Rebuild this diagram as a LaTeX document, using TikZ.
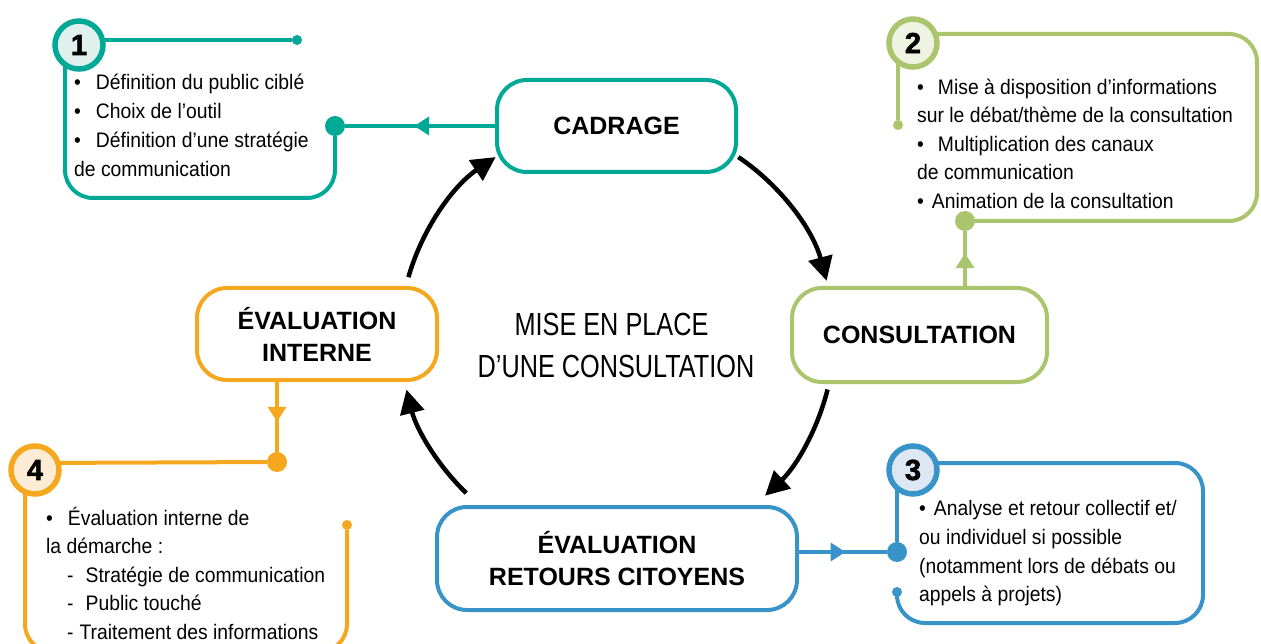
\documentclass[tikz,border=0pt]{standalone}
\usepackage{fontspec}
\setmainfont{Liberation Sans}
\newfontfamily\bodyfont[FakeStretch=0.92]{Liberation Sans}
\newfontfamily\titlefont[FakeStretch=0.79]{Liberation Sans}
\newfontfamily\numfont[FakeBold=2]{Liberation Sans Bold}
\usetikzlibrary{arrows.meta,decorations.markings,backgrounds}
\definecolor{tealc}{RGB}{0,169,150}
\definecolor{tealf}{RGB}{224,240,236}
\definecolor{greenc}{RGB}{170,197,108}
\definecolor{greenf}{RGB}{238,243,226}
\definecolor{bluec}{RGB}{55,147,200}
\definecolor{bluef}{RGB}{221,231,243}
\definecolor{orangec}{RGB}{245,168,30}
\definecolor{orangef}{RGB}{253,236,213}
\tikzset{
  stage/.style={draw, fill=white, rounded corners=30pt, line width=4pt, align=center,
    font=\fontsize{25}{32}\selectfont\bfseries},
  num/.style={circle, draw, line width=5.5pt, minimum size=48pt, inner sep=0pt,
    font=\numfont\fontsize{29}{29}\selectfont},
  bigdot/.style={circle, inner sep=0pt, minimum size=20pt},
  smalldot/.style={circle, inner sep=0pt, minimum size=10pt},
  body/.style={anchor=base west, inner sep=0pt, font=\bodyfont\fontsize{21}{29}\selectfont},
  ttl/.style={anchor=base, inner sep=0pt, font=\titlefont\fontsize{32}{43}\selectfont},
  cyc/.style={line width=4.5pt, -{Triangle[length=24pt,width=24pt]}},
  outline/.style={line width=4pt, rounded corners=28pt},
  link/.style={line width=3.5pt},
  midtri/.style={postaction={decorate}, decoration={markings,
    mark=at position #1 with {\arrow{Triangle[length=15pt,width=18pt]}}}}
}
\begin{document}
\begin{tikzpicture}[x=1pt,y=-1pt]
\useasboundingbox (0,0) rectangle (1261,644);

% stage boxes
\node[stage, draw=tealc, minimum width=239pt, minimum height=92pt] (cad) at (616.5,126) {CADRAGE};
\node[stage, draw=greenc, minimum width=255pt, minimum height=94pt] (con) at (919.5,335) {CONSULTATION};
\node[stage, draw=bluec, minimum width=360pt, minimum height=103pt] (evr) at (617,558.5) {ÉVALUATION\\RETOURS CITOYENS};
\node[stage, draw=orangec, minimum width=240pt, minimum height=92pt] (evi) at (317,334) {ÉVALUATION\\INTERNE};

% title
\node[ttl] (ti1) at (611.5,335) {MISE EN PLACE};
\node[ttl] (ti2) at (616,377) {D’UNE CONSULTATION};

% cycle arrows
\coordinate (cc) at (617,337);
\coordinate (a1) at ([shift={(-56:217)}]cc);
\coordinate (a2) at ([shift={(14:217)}]cc);
\coordinate (a3) at ([shift={(-226:217)}]cc);
\coordinate (a4) at ([shift={(-164:217)}]cc);
\draw[cyc] (a1) arc[start angle=-56, end angle=-15, radius=217];
\draw[cyc] (a2) arc[start angle=14, end angle=47, radius=217];
\draw[cyc] (a3) arc[start angle=-226, end angle=-194, radius=217];
\draw[cyc] (a4) arc[start angle=-164, end angle=-124, radius=217];

% number circles
\node[num, draw=tealc, fill=tealf] (c1) at (79,45) {1};
\node[num, draw=greenc, fill=greenf] (c2) at (913,43) {2};
\node[num, draw=bluec, fill=bluef] (c3) at (913,470) {3};
\node[num, draw=orangec, fill=orangef] (c4) at (35,470) {4};

% dots
\node[bigdot, fill=tealc] (d1) at (335,126) {};
\node[smalldot, fill=tealc] (d1t) at (297,40) {};
\node[bigdot, fill=greenc] (d2b) at (965,221) {};
\node[smalldot, fill=greenc] (d2a) at (898,125) {};
\node[bigdot, fill=bluec] (d3) at (897,552) {};
\node[smalldot, fill=bluec] (d3s) at (897,592) {};
\node[bigdot, fill=orangec] (d4) at (277,462) {};
\node[smalldot, fill=orangec] (d4s) at (347,525) {};

\begin{scope}[on background layer]
\fill[white] (0,0) rectangle (1261,644);
% box 1
\draw[outline, tealc] (c1) ++(0,-5) -- (d1t);
\draw[outline, tealc] (c1) ++(-14,0) -- (65,198) -- (335,198) -- (d1);
\draw[link, tealc, midtri=0.54] (cad.west |- d1) -- (d1);
% box 2
\draw[outline, greenc] (c2) ++(-15,0) -- (d2a);
\draw[outline, greenc] (c2) ++(0,-9) -- (1257,34) -- (1257,221) -- (d2b);
\draw[link, greenc, midtri=0.6] (con.north -| d2b) -- (d2b);
% box 3
\draw[outline, bluec] (c3) ++(0,-7) -- (1203,463) -- (1203,623) -- (897,623) -- (d3s);
\draw[outline, bluec] (c3 -| d3) -- (d3);
\draw[link, bluec, midtri=0.53] (evr.east |- d3) -- (d3);
% box 4
\draw[outline, orangec] (c4) ++(0,-7) -- (d4);
\draw[outline, orangec] (c4) ++(-10,0) -- (25,652) -- (347,652) -- (d4s);
\draw[link, orangec, midtri=0.57] (evi.south -| d4) -- (d4);
\end{scope}

% texts box 1
\node[body] (t1a) at (74,90) {\textbullet\hspace{15pt}Définition du public ciblé};
\node[body] (t1b) at (74,119) {\textbullet\hspace{15pt}Choix de l’outil};
\node[body] (t1c) at (74,148) {\textbullet\hspace{15pt}Définition d’une stratégie};
\node[body] (t1d) at (74,177) {de communication};
% texts box 2
\node[body] (t2a) at (917,95) {\textbullet\hspace{14pt}Mise à disposition d’informations};
\node[body] (t2b) at (917,123) {sur le débat/thème de la consultation};
\node[body] (t2c) at (917,152) {\textbullet\hspace{14pt}Multiplication des canaux};
\node[body] (t2d) at (917,180) {de communication};
\node[body] (t2e) at (917,209) {\textbullet\hspace{8pt}Animation de la consultation};
% texts box 3
\node[body] (t3a) at (919,515) {\textbullet\hspace{8pt}Analyse et retour collectif et/};
\node[body] (t3b) at (919,544) {ou individuel si possible};
\node[body] (t3c) at (919,573) {(notamment lors de débats ou};
\node[body] (t3d) at (919,601) {appels à projets)};
% texts box 4
\node[body] (t4a) at (46,525) {\textbullet\hspace{15pt}Évaluation interne de};
\node[body] (t4b) at (46,553) {la démarche :};
\node[body] (t4c) at (67,582) {-\hspace{12pt}Stratégie de communication};
\node[body] (t4d) at (67,610) {-\hspace{12pt}Public touché};
\node[body] (t4e) at (67,639) {-\hspace{6pt}Traitement des informations};
\end{tikzpicture}
\end{document}
